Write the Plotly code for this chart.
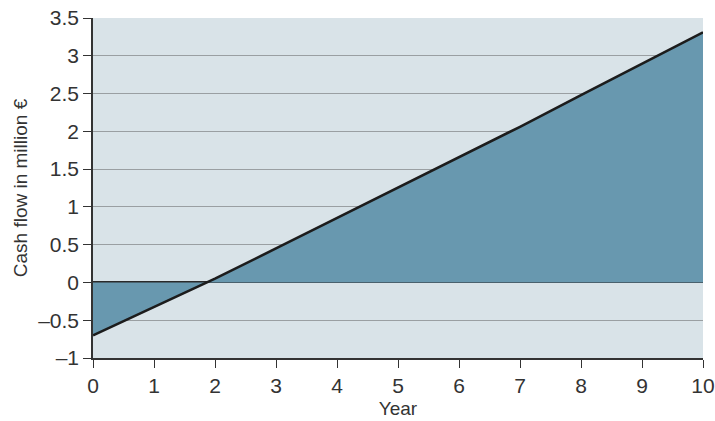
import plotly.graph_objects as go

# Cumulative cash flow by year (million €)
years = [0, 1, 2, 3, 4, 5, 6, 7, 8, 9, 10]
cash_flow = [-0.70, -0.33, 0.05, 0.45, 0.85, 1.25, 1.65, 2.06, 2.48, 2.89, 3.31]

y_ticks = [-1, -0.5, 0, 0.5, 1, 1.5, 2, 2.5, 3, 3.5]
y_tick_text = ["\u20131", "\u20130.5", "0", "0.5", "1", "1.5", "2", "2.5", "3", "3.5"]
x_ticks = years

fig = go.Figure()

fig.add_trace(go.Scatter(
    x=years, y=cash_flow,
    mode="lines",
    fill="tozeroy",
    fillcolor="#6898af",
    line=dict(color="#1c1c1c", width=2.6),
    hoverinfo="x+y",
))

font_family = "Liberation Sans"
tick_font = dict(family=font_family, size=21, color="#333333")
title_font = dict(family=font_family, size=19, color="#333333")

fig.update_layout(
    width=715, height=421,
    margin=dict(l=93, r=12, t=18, b=63, autoexpand=False),
    paper_bgcolor="white",
    plot_bgcolor="#d9e3e8",
    showlegend=False,
    font=dict(family=font_family, size=19, color="#333333"),
    xaxis=dict(
        range=[0, 10],
        tickvals=x_ticks,
        tickfont=tick_font,
        automargin=False,
        ticks="outside", ticklen=8, tickwidth=1.2, tickcolor="#333333",
        showline=True, linecolor="#333333", linewidth=1.5,
        showgrid=False, zeroline=False,
        title=dict(text="Year", font=title_font, standoff=6),
    ),
    yaxis=dict(
        range=[-1, 3.5],
        tickvals=y_ticks, ticktext=y_tick_text,
        tickfont=tick_font,
        automargin=False,
        ticks="outside", ticklen=8, tickwidth=1.2, tickcolor="#333333",
        showline=True, linecolor="#333333", linewidth=1.5,
        showgrid=True, gridcolor="#9a9fa2", gridwidth=1.2,
        zeroline=True, zerolinecolor="#2a2a2a", zerolinewidth=1.6,
        title=dict(text="Cash flow in million \u20ac", font=title_font, standoff=6),
    ),
)

fig.write_html("out.html")
